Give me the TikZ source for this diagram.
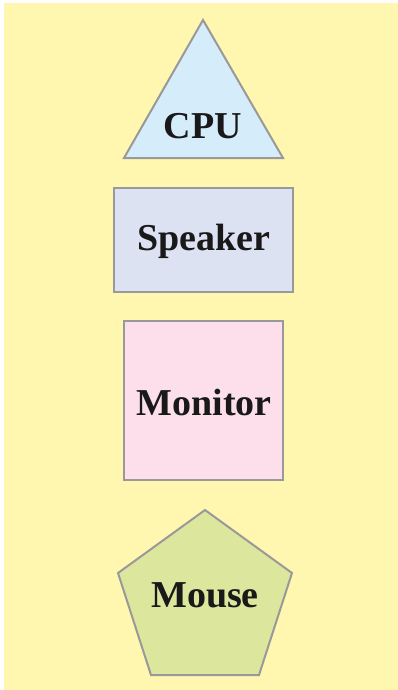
\documentclass[tikz,border=0pt]{standalone}
\usepackage{fontspec}
\setmainfont{Liberation Serif}
\usepackage{xcolor}
\usetikzlibrary{calc}

\definecolor{bgyellow}{HTML}{FFF7B0}
\definecolor{edgegray}{HTML}{999999}
\definecolor{cpublue}{HTML}{D5ECFA}
\definecolor{spkblue}{HTML}{DCE2F2}
\definecolor{monpink}{HTML}{FCDFEA}
\definecolor{mousegreen}{HTML}{DCE69D}

\begin{document}
\begin{tikzpicture}[x=1pt,y=-1pt]
                \tikzset{part/.style={draw=edgegray,line width=2pt,line join=miter},
                         lbl/.style={inner sep=0pt,anchor=base,text=black!90,
                                     font=\fontsize{38}{42}\selectfont\bfseries}}
                \useasboundingbox (0,0) rectangle (398,690);
                \fill [white] (0,0) rectangle (398,690);
                \fill [bgyellow] (4,3) rectangle (398,690);
                % CPU
                \coordinate (cputop) at (203,20);
                \coordinate (cpul) at (124,158);
                \coordinate (cpur) at (283,158);
                \filldraw [part,fill=cpublue] (cputop) -- (cpur) -- (cpul) -- cycle;
                \node [lbl] (cpu) at (203,138) {CPU};
                % Speaker
                \coordinate (spka) at (114,188);
                \coordinate (spkb) at (293,292);
                \filldraw [part,fill=spkblue] (spka) rectangle (spkb);
                \node [lbl] (speaker) at (204,250) {Speaker};
                % Monitor
                \coordinate (mona) at (124,321);
                \coordinate (monb) at (283,480);
                \filldraw [part,fill=monpink] (mona) rectangle (monb);
                \node [lbl] (monitor) at (204,415) {Monitor};
                % Mouse
                \coordinate (mstop) at (205,510);
                \coordinate (msr) at (292,573);
                \coordinate (msbr) at (259,675);
                \coordinate (msbl) at (151,675);
                \coordinate (msl) at (118,573);
                \filldraw [part,fill=mousegreen] (mstop) -- (msr) -- (msbr) -- (msbl) -- (msl) -- cycle;
                \node [lbl] (mouse) at (205,607) {Mouse};
\end{tikzpicture}
\end{document}
